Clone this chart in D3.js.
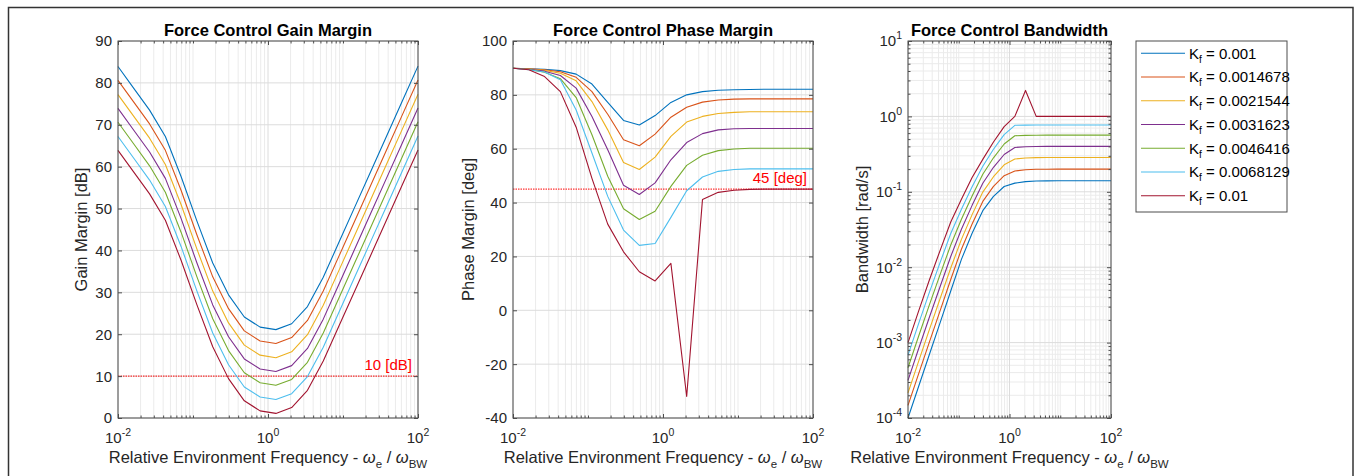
<!DOCTYPE html>
<html>
<head>
<meta charset="utf-8">
<script src="https://cdn.jsdelivr.net/npm/d3@7"></script>
<style>
  body { margin: 0; background: #fff; }
  svg { display: block; font-family: "Liberation Sans", Arial, Helvetica, sans-serif; }
</style>
</head>
<body>
<div id="chart"></div>
<script>
// sample frequencies (relative environment frequency, 20 log-spaced points)
const freqs = [0.01, 0.016238, 0.026367, 0.042813, 0.069519, 0.11288, 0.1833, 0.29764, 0.48329, 0.78476,
               1.2743, 2.0691, 3.3598, 5.4556, 8.8587, 14.384, 23.357, 37.927, 61.585, 100];

const kfLabels = ["0.001", "0.0014678", "0.0021544", "0.0031623", "0.0046416", "0.0068129", "0.01"];
const seriesColors = ["#0072BD", "#D95319", "#EDB120", "#7E2F8E", "#77AC30", "#4DBEEE", "#A2142F"];

// gain margin [dB], one row per Kf
const gainMargin = [
  [83.9, 78.7, 73.5, 67.2, 57.6, 47.0, 37.0, 29.4, 24.1, 21.7, 21.1, 22.5, 26.6, 33.6, 42.0, 50.4, 58.8, 67.2, 75.6, 84.0],
  [80.6, 75.4, 70.2, 63.9, 54.3, 43.7, 33.7, 26.1, 20.8, 18.4, 17.8, 19.2, 23.3, 30.3, 38.7, 47.1, 55.5, 63.9, 72.3, 80.7],
  [77.2, 72.0, 66.8, 60.5, 50.9, 40.3, 30.3, 22.7, 17.4, 15.0, 14.4, 15.8, 19.9, 26.9, 35.3, 43.7, 52.1, 60.5, 68.9, 77.3],
  [73.9, 68.7, 63.5, 57.2, 47.6, 37.0, 27.0, 19.4, 14.1, 11.7, 11.1, 12.5, 16.6, 23.6, 32.0, 40.4, 48.8, 57.2, 65.6, 74.0],
  [70.6, 65.4, 60.2, 53.9, 44.3, 33.7, 23.7, 16.1, 10.8, 8.4, 7.8, 9.2, 13.3, 20.3, 28.7, 37.1, 45.5, 53.9, 62.3, 70.7],
  [67.2, 62.0, 56.8, 50.5, 40.9, 30.3, 20.3, 12.7, 7.4, 5.0, 4.4, 5.8, 9.9, 16.9, 25.3, 33.7, 42.1, 50.5, 58.9, 67.3],
  [63.9, 58.7, 53.5, 47.2, 37.6, 27.0, 17.0, 9.4, 4.1, 1.7, 1.1, 2.5, 6.6, 13.6, 22.0, 30.4, 38.8, 47.2, 55.6, 64.0]
];

// phase margin [deg]
const phaseMargin = [
  [89.9, 89.7, 89.5, 89.0, 87.7, 84.0, 77.2, 70.5, 68.8, 72.3, 77.2, 80.0, 81.2, 81.7, 81.9, 82.0, 82.1, 82.1, 82.1, 82.1],
  [89.9, 89.7, 89.3, 88.6, 86.5, 81.2, 72.8, 63.3, 61.1, 65.4, 71.7, 75.4, 77.3, 78.1, 78.4, 78.5, 78.5, 78.5, 78.5, 78.5],
  [89.9, 89.6, 89.1, 88.0, 85.2, 77.5, 67.0, 54.9, 52.3, 56.9, 64.6, 69.9, 72.0, 73.1, 73.5, 73.7, 73.7, 73.7, 73.7, 73.7],
  [89.9, 89.5, 88.8, 87.2, 82.5, 72.0, 59.6, 46.4, 43.0, 47.3, 55.9, 62.3, 65.6, 67.0, 67.4, 67.5, 67.5, 67.5, 67.5, 67.5],
  [89.9, 89.4, 88.4, 86.0, 79.0, 65.2, 49.8, 37.7, 33.7, 36.8, 46.0, 53.8, 57.6, 59.3, 59.9, 60.2, 60.2, 60.2, 60.2, 60.2],
  [89.9, 89.3, 88.5, 85.6, 74.4, 58.4, 42.3, 29.8, 24.1, 24.8, 34.5, 44.4, 49.5, 51.6, 52.3, 52.5, 52.5, 52.5, 52.5, 52.5],
  [89.9, 89.3, 86.8, 81.2, 68.0, 49.0, 32.0, 21.7, 14.3, 10.9, 17.4, -32.0, 41.1, 43.8, 44.6, 44.9, 45.0, 45.0, 45.0, 45.0]
];

// bandwidth [rad/s]
const bandwidth = [
  [1.0e-4, 2.64e-4, 6.95e-4, 1.83e-3, 4.83e-3, 0.0127, 0.0282, 0.0562, 0.0871, 0.1175, 0.1303, 0.1365, 0.139, 0.1396, 0.14, 0.14, 0.14, 0.14, 0.14, 0.14],
  [1.47e-4, 3.87e-4, 1.016e-3, 2.64e-3, 6.87e-3, 0.0173, 0.0374, 0.0746, 0.1178, 0.1637, 0.1888, 0.1959, 0.1988, 0.1995, 0.2, 0.2, 0.2, 0.2, 0.2, 0.2],
  [2.15e-4, 5.68e-4, 1.483e-3, 3.82e-3, 9.75e-3, 0.0234, 0.0498, 0.0991, 0.1586, 0.228, 0.2723, 0.2805, 0.2838, 0.2844, 0.285, 0.285, 0.285, 0.285, 0.285, 0.285],
  [3.16e-4, 8.34e-4, 2.168e-3, 5.51e-3, 0.01387, 0.0318, 0.0661, 0.1297, 0.2112, 0.3122, 0.3869, 0.3954, 0.3987, 0.4, 0.4, 0.4, 0.4, 0.4, 0.4, 0.4],
  [4.64e-4, 1.225e-3, 3.17e-3, 7.96e-3, 0.0197, 0.0432, 0.0877, 0.1708, 0.2825, 0.4306, 0.5534, 0.561, 0.5636, 0.565, 0.565, 0.565, 0.565, 0.565, 0.565, 0.565],
  [6.81e-4, 1.795e-3, 4.63e-3, 0.0115, 0.028, 0.0586, 0.1167, 0.2183, 0.3664, 0.5741, 0.7621, 0.7665, 0.768, 0.769, 0.769, 0.769, 0.769, 0.769, 0.769, 0.769],
  [1.0e-3, 2.64e-3, 6.76e-3, 0.0166, 0.0398, 0.0794, 0.1549, 0.2692, 0.4571, 0.7328, 1.0, 2.21, 1.0, 1.0, 1.0, 1.0, 1.0, 1.0, 1.0, 1.0]
];

const W = 1356, H = 476;
const plotTop = 41, plotBottom = 418;

const svg = d3.select("#chart").append("svg")
  .attr("width", W)
  .attr("height", H);

svg.append("rect").attr("width", W).attr("height", H).attr("fill", "#fff");

// outer figure frame
svg.append("rect")
  .attr("x", 8.5).attr("y", 7.5)
  .attr("width", 1344.5).attr("height", 490)
  .attr("fill", "none")
  .attr("stroke", "#333")
  .attr("stroke-width", 1.5);

// minor/major tick values for a log axis
function logTicks(lo, hi) {
  const minor = [], major = [];
  for (let e = lo; e <= hi; e++) {
    major.push(Math.pow(10, e));
    if (e < hi) for (let m = 2; m <= 9; m++) minor.push(m * Math.pow(10, e));
  }
  return { minor, major };
}

function supLabel(sel, exp) {
  sel.append("tspan").text("10");
  sel.append("tspan").attr("dy", -7).attr("font-size", "10.5px").text(exp);
}

function drawPanel(cfg) {
  const g = svg.append("g");
  const x = d3.scaleLog().domain([1e-2, 1e2]).range([cfg.x0, cfg.x1]);
  const y = cfg.y;

  // --- grid
  const xt = logTicks(-2, 2);
  const xMinor = xt.minor.concat([0.1, 10]);
  const xMajor = [1e-2, 1, 1e2];
  g.append("g").selectAll("line").data(xMinor).join("line")
    .attr("x1", d => x(d)).attr("x2", d => x(d))
    .attr("y1", plotTop).attr("y2", plotBottom)
    .attr("stroke", "#ebebeb").attr("stroke-width", 1);
  if (cfg.yLog) {
    g.append("g").selectAll("line").data(cfg.yMinor).join("line")
      .attr("x1", cfg.x0).attr("x2", cfg.x1)
      .attr("y1", d => y(d)).attr("y2", d => y(d))
      .attr("stroke", "#ebebeb").attr("stroke-width", 1);
  }
  g.append("g").selectAll("line").data(xMajor).join("line")
    .attr("x1", d => x(d)).attr("x2", d => x(d))
    .attr("y1", plotTop).attr("y2", plotBottom)
    .attr("stroke", "#dcdcdc").attr("stroke-width", 1);
  g.append("g").selectAll("line").data(cfg.yTicks).join("line")
    .attr("x1", cfg.x0).attr("x2", cfg.x1)
    .attr("y1", d => y(d)).attr("y2", d => y(d))
    .attr("stroke", "#dcdcdc").attr("stroke-width", 1);

  // --- reference line
  if (cfg.ref) {
    g.append("line")
      .attr("x1", cfg.x0).attr("x2", cfg.x1)
      .attr("y1", y(cfg.ref.value)).attr("y2", y(cfg.ref.value))
      .attr("stroke", "#ff0000").attr("stroke-width", 1)
      .attr("stroke-dasharray", "1.5 1");
    g.append("text")
      .attr("x", cfg.x1 - 6).attr("y", y(cfg.ref.value) - 6)
      .attr("text-anchor", "end")
      .attr("font-size", "15px")
      .attr("fill", "#ff0000")
      .text(cfg.ref.label);
  }

  // --- series
  const line = d3.line()
    .x((d, i) => x(freqs[i]))
    .y(d => y(d));
  g.append("g").selectAll("path").data(cfg.data).join("path")
    .attr("fill", "none")
    .attr("stroke", (d, i) => seriesColors[i])
    .attr("stroke-width", 1.1)
    .attr("stroke-linejoin", "round")
    .attr("d", line);

  // --- ticks (inward, all four sides)
  const axisCol = "#4d4d4d";
  function styleAxis(a) {
    a.select(".domain").remove();
    a.selectAll("line").attr("stroke", axisCol);
    a.selectAll("text").remove();
  }
  [[d3.axisBottom, plotBottom], [d3.axisTop, plotTop]].forEach(([fn, ty]) => {
    g.append("g").attr("transform", `translate(0,${ty})`)
      .call(fn(x).tickValues(xMinor).tickSize(-2.5)).call(styleAxis);
    g.append("g").attr("transform", `translate(0,${ty})`)
      .call(fn(x).tickValues(xMajor).tickSize(-4)).call(styleAxis);
  });
  [[d3.axisLeft, cfg.x0], [d3.axisRight, cfg.x1]].forEach(([fn, tx]) => {
    if (cfg.yLog) {
      g.append("g").attr("transform", `translate(${tx},0)`)
        .call(fn(y).tickValues(cfg.yMinor).tickSize(-2.5)).call(styleAxis);
    }
    g.append("g").attr("transform", `translate(${tx},0)`)
      .call(fn(y).tickValues(cfg.yTicks).tickSize(-4)).call(styleAxis);
  });

  // --- box
  g.append("rect")
    .attr("x", cfg.x0).attr("y", plotTop)
    .attr("width", cfg.x1 - cfg.x0).attr("height", plotBottom - plotTop)
    .attr("fill", "none").attr("stroke", axisCol).attr("stroke-width", 1);

  // --- x tick labels
  g.append("g").selectAll("text").data([[1e-2, "-2"], [1, "0"], [1e2, "2"]]).join("text")
    .attr("x", d => x(d[0]))
    .attr("y", 443)
    .attr("text-anchor", "middle")
    .attr("font-size", "15px")
    .attr("fill", "#262626")
    .each(function(d) { supLabel(d3.select(this), d[1]); });

  // --- y tick labels
  g.append("g").selectAll("text").data(cfg.yTicks).join("text")
    .attr("x", cfg.x0 - 6)
    .attr("y", d => y(d) + 5.4)
    .attr("text-anchor", "end")
    .attr("font-size", "15px")
    .attr("fill", "#262626")
    .each(function(d) {
      if (cfg.yLog) supLabel(d3.select(this), String(Math.round(Math.log10(d))));
      else d3.select(this).text(d);
    });

  // --- title
  g.append("text")
    .attr("x", (cfg.x0 + cfg.x1) / 2).attr("y", 36)
    .attr("text-anchor", "middle")
    .attr("font-size", "16.5px")
    .attr("font-weight", "bold")
    .attr("fill", "#000")
    .text(cfg.title);

  // --- x label
  const xl = g.append("text")
    .attr("x", (cfg.x0 + cfg.x1) / 2).attr("y", 463)
    .attr("text-anchor", "middle")
    .attr("font-size", "16.5px")
    .attr("fill", "#262626")
    .style("white-space", "pre");
  xl.append("tspan").text("Relative Environment Frequency - ");
  xl.append("tspan").attr("font-style", "italic").text("ω");
  xl.append("tspan").attr("font-size", "11.5px").attr("dy", 5).text("e");
  xl.append("tspan").attr("dy", -5).text(" / ");
  xl.append("tspan").attr("font-style", "italic").text("ω");
  xl.append("tspan").attr("font-size", "11.5px").attr("dy", 5).text("BW");

  // --- y label
  g.append("text")
    .attr("transform", `translate(${cfg.yLabelX},${(plotTop + plotBottom) / 2}) rotate(-90)`)
    .attr("text-anchor", "middle")
    .attr("font-size", "16.5px")
    .attr("fill", "#262626")
    .text(cfg.yLabel);
}

drawPanel({
  x0: 118, x1: 418,
  y: d3.scaleLinear().domain([0, 90]).range([plotBottom, plotTop]),
  yTicks: d3.range(0, 91, 10),
  data: gainMargin,
  ref: { value: 10, label: "10 [dB]" },
  title: "Force Control Gain Margin",
  yLabel: "Gain Margin [dB]",
  yLabelX: 87
});

drawPanel({
  x0: 513, x1: 813,
  y: d3.scaleLinear().domain([-40, 100]).range([plotBottom, plotTop]),
  yTicks: d3.range(-40, 101, 20),
  data: phaseMargin,
  ref: { value: 45, label: "45 [deg]" },
  title: "Force Control Phase Margin",
  yLabel: "Phase Margin [deg]",
  yLabelX: 474
});

const yBw = logTicks(-4, 1);
drawPanel({
  x0: 908, x1: 1111,
  y: d3.scaleLog().domain([1e-4, 1e1]).range([plotBottom, plotTop]),
  yLog: true,
  yTicks: yBw.major,
  yMinor: yBw.minor,
  data: bandwidth,
  title: "Force Control Bandwidth",
  yLabel: "Bandwidth [rad/s]",
  yLabelX: 868
});

// --- legend
const leg = svg.append("g");
leg.append("rect")
  .attr("x", 1136).attr("y", 41)
  .attr("width", 151).attr("height", 171)
  .attr("fill", "#fff").attr("stroke", "#4d4d4d").attr("stroke-width", 1);
const rowY = d3.scaleLinear().domain([0, 6]).range([53.3, 195.7]);
const rows = leg.selectAll("g.row").data(kfLabels).join("g").attr("class", "row")
  .attr("transform", (d, i) => `translate(0,${rowY(i)})`);
rows.append("line")
  .attr("x1", 1141).attr("x2", 1185)
  .attr("stroke", (d, i) => seriesColors[i]).attr("stroke-width", 1.1);
const lt = rows.append("text")
  .attr("x", 1189).attr("y", 5.3)
  .attr("font-size", "15px")
  .attr("fill", "#000")
  .style("white-space", "pre");
lt.append("tspan").text("K");
lt.append("tspan").attr("font-size", "10px").attr("dy", 4).text("f");
lt.append("tspan").attr("dy", -4).text(d => " = " + d);
</script>
</body>
</html>
